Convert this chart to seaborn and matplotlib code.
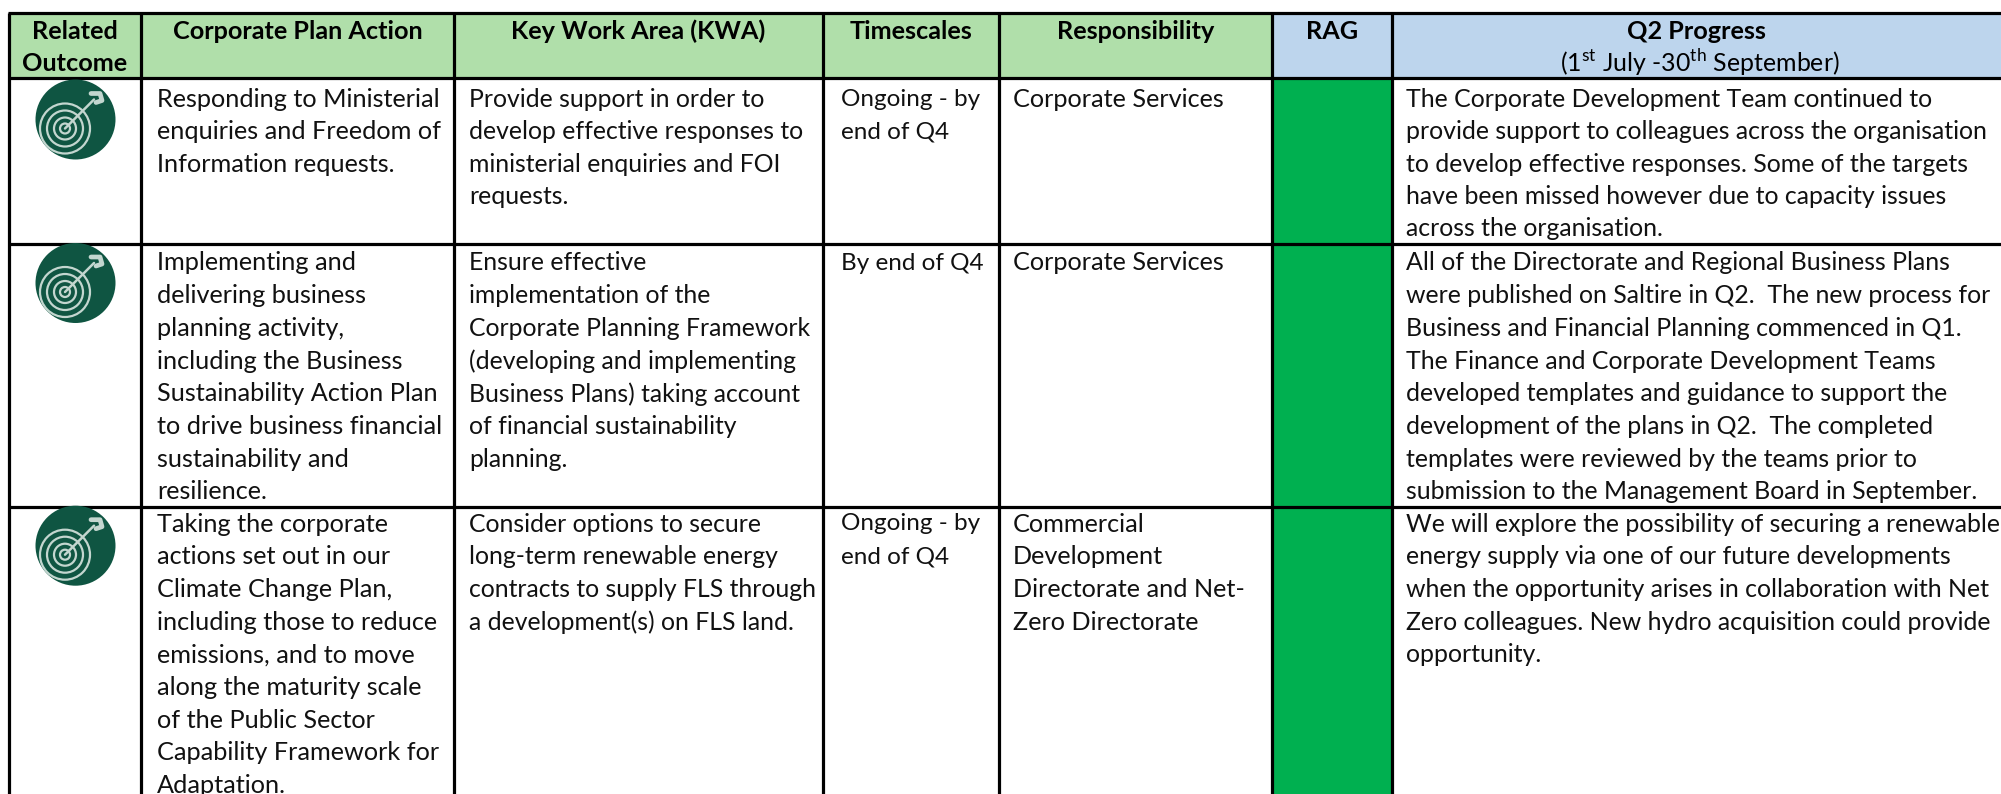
import numpy as np
import matplotlib
matplotlib.use("Agg")
import matplotlib.pyplot as plt
from matplotlib.colors import ListedColormap
from matplotlib.patches import Circle
import seaborn as sns

W, H = 2001, 794
col_edges = [9, 141, 454, 823, 999, 1272, 1392, 2001]
row_edges = [13, 78, 244, 507, 794]
FS = 18.2

header_titles = ["Related\nOutcome", "Corporate Plan Action", "Key Work Area (KWA)", "Timescales",
                 "Responsibility", "RAG", "Q2 Progress"]
header_sub = r"(1$^{\mathrm{st}}$ July -30$^{\mathrm{th}}$ September)"

actions = [
    ["Responding to Ministerial", "enquiries and Freedom of", "Information requests."],
    ["Implementing and", "delivering business", "planning activity,", "including the Business",
     "Sustainability Action Plan", "to drive business financial", "sustainability and", "resilience."],
    ["Taking the corporate", "actions set out in our", "Climate Change Plan,", "including those to reduce",
     "emissions, and to move", "along the maturity scale", "of the Public Sector",
     "Capability Framework for", "Adaptation."],
]
kwas = [
    ["Provide support in order to", "develop effective responses to", "ministerial enquiries and FOI", "requests."],
    ["Ensure effective", "implementation of the", "Corporate Planning Framework", "(developing and implementing",
     "Business Plans) taking account", "of financial sustainability", "planning."],
    ["Consider options to secure", "long-term renewable energy", "contracts to supply FLS through",
     "a development(s) on FLS land."],
]
timescales = [["Ongoing - by", "end of Q4"], ["By end of Q4"], ["Ongoing - by", "end of Q4"]]
responsibility = [["Corporate Services"], ["Corporate Services"],
                  ["Commercial", "Development", "Directorate and Net-", "Zero Directorate"]]
progress = [
    ["The Corporate Development Team continued to", "provide support to colleagues across the organisation",
     "to develop effective responses. Some of the targets", "have been missed however due to capacity issues",
     "across the organisation."],
    ["All of the Directorate and Regional Business Plans", "were published on Saltire in Q2.  The new process for",
     "Business and Financial Planning commenced in Q1.", "The Finance and Corporate Development Teams",
     "developed templates and guidance to support the", "development of the plans in Q2.  The completed",
     "templates were reviewed by the teams prior to", "submission to the Management Board in September."],
    ["We will explore the possibility of securing a renewable", "energy supply via one of our future developments",
     "when the opportunity arises in collaboration with Net", "Zero colleagues. New hydro acquisition could provide",
     "opportunity."],
]
columns = [actions, kwas, timescales, responsibility, None, progress]

sns.set_theme(style="white")
plt.rcParams["font.family"] = ["Lato", "DejaVu Sans"]
plt.rcParams["mathtext.fontset"] = "custom"
plt.rcParams["mathtext.rm"] = "Lato"

# cell-status grid: 0 white, 1 green header, 2 blue header, 3 RAG green
x_sizes = np.diff([0] + col_edges + [W])
x_sizes = x_sizes[x_sizes > 0]
y_sizes = np.diff([0] + row_edges + [H])
y_sizes = y_sizes[y_sizes > 0]
cells = np.zeros((len(y_sizes), len(x_sizes)), dtype=int)
cells[1, 1:6] = 1
cells[1, 6:] = 2
cells[2:, 6] = 3
grid = np.repeat(np.repeat(cells, y_sizes, axis=0), x_sizes, axis=1)

fig = plt.figure(figsize=(W / 100, H / 100), dpi=100, facecolor="white")
ax = fig.add_axes([0, 0, 1, 1])
sns.heatmap(grid, ax=ax, cbar=False, vmin=0, vmax=3, xticklabels=False, yticklabels=False,
            cmap=ListedColormap(["#ffffff", "#b0dfaa", "#bdd5ed", "#00b050"]))
ax.set_xlim(0, W)
ax.set_ylim(H, 0)
ax.axis("off")

LW = 2.3
ax.hlines(row_edges[:-1], col_edges[0] - 1.5, W, color="black", lw=LW)
ax.vlines(col_edges[:-1], row_edges[0], H, color="black", lw=LW)

# headers
hy = 31.5
for i, t in enumerate(header_titles):
    cx = (col_edges[i] + col_edges[i + 1]) / 2
    for k, part in enumerate(t.split("\n")):
        ax.text(cx, hy + k * 32, part, ha="center", va="center", fontsize=FS, fontweight="bold", color="black")
ax.text((col_edges[6] + col_edges[7]) / 2 + 3, 62, header_sub, ha="center", va="center", fontsize=FS - 0.3, color="black")

# body text
col_x = [157, 469, 841, 1013, None, 1406]
tops = [99.5, 263, 524]
steps = [32.3, 32.7, 32.7]
col_fs = [FS, FS - 0.4, FS - 0.7, FS, None, FS - 0.25]
for col, xpos, fs in zip(columns, col_x, col_fs):
    if col is None:
        continue
    for r, lines in enumerate(col):
        for k, line in enumerate(lines):
            ax.text(xpos, tops[r] + k * steps[r], line, ha="left", va="center", fontsize=fs, color="#111111")

# target icons
icon_y = [119.5, 283, 545.7]
RING = "#c3d6cf"
for cy in icon_y:
    ax.add_patch(Circle((75.5, cy), 40, fc="#0f5542", ec="none", zorder=3))
    for rad in (25, 18, 11, 5):
        ax.add_patch(Circle((65, cy + 9), rad, fc="none", ec=RING, lw=1.6, zorder=4))
    ax.plot([65, 94], [cy + 9, cy - 20], color=RING, lw=1.8, zorder=4)
    ax.plot([91, 100, 102, 96], [cy - 26, cy - 26, cy - 19, cy - 17], color=RING, lw=3.4, zorder=4)

fig.savefig("out.png", dpi=100)
